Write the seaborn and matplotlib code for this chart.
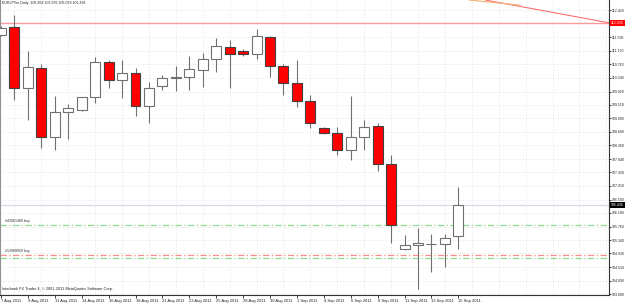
import numpy as np
import pandas as pd
import matplotlib
matplotlib.use('Agg')
import matplotlib.pyplot as plt
import matplotlib.transforms as mtransforms
import seaborn as sns

# EURJPY daily bars
dates = ['7 Aug 2011', '8 Aug 2011', '9 Aug 2011', '10 Aug 2011', '11 Aug 2011', '12 Aug 2011',
         '14 Aug 2011', '15 Aug 2011', '16 Aug 2011', '17 Aug 2011', '18 Aug 2011', '19 Aug 2011',
         '21 Aug 2011', '22 Aug 2011', '23 Aug 2011', '24 Aug 2011', '25 Aug 2011', '26 Aug 2011',
         '28 Aug 2011', '29 Aug 2011', '30 Aug 2011', '31 Aug 2011', '1 Sep 2011', '2 Sep 2011',
         '4 Sep 2011', '5 Sep 2011', '6 Sep 2011', '7 Sep 2011', '8 Sep 2011', '9 Sep 2011',
         '11 Sep 2011', '12 Sep 2011', '13 Sep 2011', '14 Sep 2011', '15 Sep 2011']
opens = [111.66, 111.90, 110.02, 110.66, 108.53, 109.29, 109.35, 109.74, 110.82, 110.27, 110.48, 109.48,
         110.08, 110.33, 110.36, 110.58, 110.91, 111.30, 111.17, 111.07, 111.61, 110.71, 110.19, 109.64,
         108.79, 108.65, 108.12, 108.53, 108.86, 107.69, 105.07, 105.18, 105.21, 105.22, 105.464]
highs = [111.95, 112.28, 111.17, 110.76, 109.78, 109.53, 109.76, 110.97, 110.89, 110.89, 110.64, 110.20,
         110.43, 110.71, 111.01, 111.10, 111.56, 111.51, 111.22, 111.84, 111.63, 110.76, 110.89, 109.81,
         108.82, 108.84, 109.78, 109.04, 108.96, 107.96, 105.50, 105.70, 105.52, 105.52, 106.976]
lows = [111.62, 109.66, 109.04, 108.19, 108.12, 108.46, 109.33, 109.56, 110.04, 109.73, 109.17, 108.94,
        109.96, 109.95, 109.98, 110.07, 110.53, 110.02, 111.01, 110.91, 110.38, 109.81, 109.45, 108.79,
        108.61, 107.96, 107.81, 108.12, 107.48, 105.24, 105.05, 103.83, 104.37, 104.51, 105.079]
closes = [111.88, 110.02, 110.67, 108.53, 109.30, 109.40, 109.74, 110.82, 110.27, 110.48, 109.48, 110.04,
          110.33, 110.36, 110.61, 110.91, 111.32, 111.08, 111.08, 111.63, 110.71, 110.17, 109.63, 108.96,
          108.65, 108.12, 108.53, 108.84, 107.68, 105.81, 105.18, 105.24, 105.22, 105.41, 106.436]

price_ticks = [112.420, 111.590, 111.170, 110.760, 110.340, 109.920, 109.510, 109.090, 108.680,
               108.260, 107.840, 107.430, 107.010, 106.590, 106.180, 105.760, 105.340, 104.930,
               104.510, 104.090, 103.680]

resistance = 112.030
bid = 106.436
order_levels = [105.81, 104.88, 104.79]
order_colors = ['#8fd88f', '#ff8a8a', '#8fd88f']
order_labels = ['#43061400 buy', '#13968059 buy', None]

df = pd.DataFrame({'date': dates, 'open': opens, 'high': highs, 'low': lows, 'close': closes})
df['x'] = np.arange(len(df))
df['up'] = df.close >= df.open

sns.set_style('white')
plt.rcParams['font.family'] = ['Liberation Sans', 'DejaVu Sans']

fig = plt.figure(figsize=(6.25, 3.03), dpi=100)
ax = fig.add_axes([0, 8 / 303, 609 / 625, 295 / 303])

# grid
for p in price_ticks:
    ax.axhline(p, color='#dcdcdc', linestyle=(0, (1, 2)), lw=0.6, zorder=0)
for gx in range(1, 46, 2):
    ax.axvline(gx, color='#dcdcdc', linestyle=(0, (1, 2)), lw=0.6, zorder=0)

# levels
ax.axhline(resistance, color='#ff9a9a', lw=1.0, zorder=1)
ax.axhline(bid, color='#d6d6ea', lw=0.8, zorder=1)
for lvl, col in zip(order_levels, order_colors):
    ax.axhline(lvl, color=col, lw=0.9, linestyle=(0, (5, 2, 1, 2)), zorder=1)
for lvl, lab in zip(order_levels, order_labels):
    if lab:
        ax.text(0.3, lvl + 0.05, lab, fontsize=2.6, color='#333333', va='bottom', ha='left')

# trend lines in top right corner
ax.plot([36.0, 45.3], [112.74, 112.03], color='#ff7070', lw=0.8, zorder=1)
ax.plot([34.8, 38.6], [112.74, 112.58], color='#f0b070', lw=0.8, zorder=1)

# candles
ax.vlines(df.x, df.low, df.high, color='#707070', lw=0.8, zorder=2)
body_bottom = np.minimum(df.open, df.close)
body_height = np.maximum(np.abs(df.close - df.open), 0.015)
fills = np.where(df.up, 'white', '#ff0000')
edges = np.where(df.up, '#707070', '#404040')
ax.bar(df.x, body_height, bottom=body_bottom, width=0.74, color=fills,
       edgecolor=edges, linewidth=0.8, zorder=3)

ax.set_xlim(-0.074, 45.2)
ax.set_ylim(103.65, 112.74)

# axes styling
ax.yaxis.tick_right()
ax.set_yticks(price_ticks)
ax.set_yticklabels([f'{p:.3f}' for p in price_ticks])
ax.tick_params(axis='y', which='both', right=True, length=1.5, width=0.6, pad=0.8,
               labelsize=2.5, colors='#222222')
label_idx = list(range(0, len(dates), 2))
ax.set_xticks(label_idx)
ax.set_xticklabels([dates[i] for i in label_idx])
for lbl in ax.get_xticklabels():
    lbl.set_ha('left')
ax.tick_params(axis='x', bottom=True, length=2, width=0.6, pad=0.6,
               labelsize=3.0, colors='#222222')
ax.spines['top'].set_visible(False)
ax.spines['left'].set_color('#909090')
ax.spines['right'].set_color('#333333')
ax.spines['bottom'].set_color('#333333')
for side in ['left', 'right', 'bottom']:
    ax.spines[side].set_linewidth(0.8)

# price boxes on the axis
trans = mtransforms.blended_transform_factory(ax.transAxes, ax.transData)
ax.text(1.003, resistance, f'{resistance:.3f}', transform=trans, fontsize=2.5, color='white',
        va='center', ha='left', clip_on=False,
        bbox=dict(boxstyle='square,pad=0.3', facecolor='#ff0000', edgecolor='none'))
ax.text(1.003, bid, f'{bid:.3f}', transform=trans, fontsize=2.5, color='white',
        va='center', ha='left', clip_on=False,
        bbox=dict(boxstyle='square,pad=0.3', facecolor='black', edgecolor='none'))

# header and footer
ax.text(0.004, 0.995, 'EURJPYm,Daily  105.464 106.976 105.079 106.436', transform=ax.transAxes,
        fontsize=2.6, color='#222222', va='top', ha='left')
ax.text(0.004, 0.012, 'Interbank FX Trader 4, \u00a9 2001-2011 MetaQuotes Software Corp.',
        transform=ax.transAxes, fontsize=2.8, color='#222222', va='bottom', ha='left')

fig.savefig('out.png', dpi=100)
